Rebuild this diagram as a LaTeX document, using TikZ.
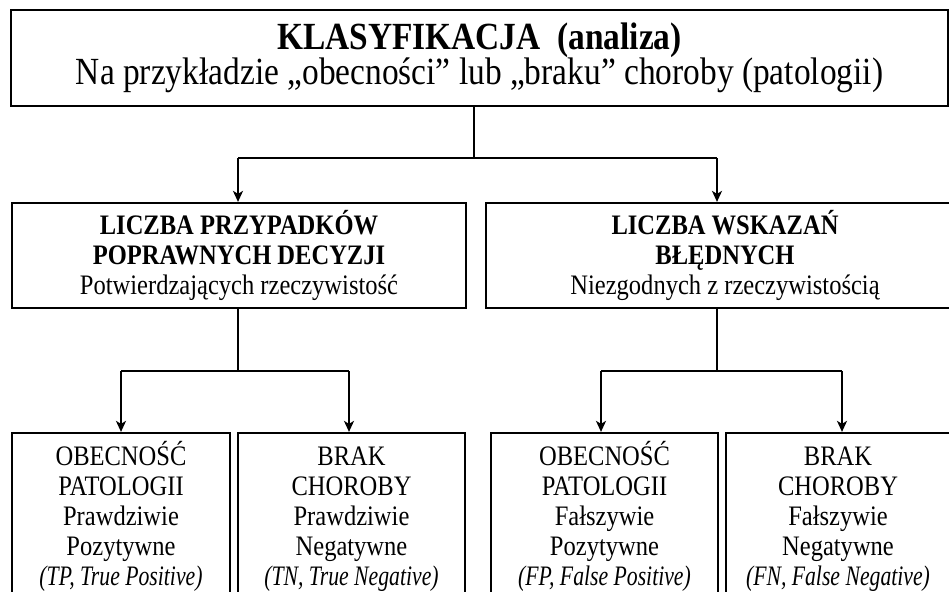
\documentclass[tikz,border=0pt]{standalone}
\usepackage{fontspec}
\setmainfont{Liberation Serif}[FakeStretch=0.87]
\newfontfamily\englfont{Liberation Serif}[FakeStretch=0.77]
\usetikzlibrary{arrows.meta}
\newcommand{\engl}[1]{{\englfont\itshape #1}}
\begin{document}
\begin{tikzpicture}[x=1pt,y=-1pt,
  box/.style={draw, line width=2.2pt, rectangle, inner sep=0pt, align=center},
  conn/.style={line width=2pt},
  arr/.style={conn, -{Stealth[length=11pt,width=10pt,inset=3pt]}},
  bigtxt/.style={font=\fontsize{38.4}{35.5}\selectfont},
  midtxt/.style={font=\fontsize{28.2}{30}\selectfont},
]
\useasboundingbox (0,0) rectangle (949,591);
\clip (0,0) rectangle (949,591);
\node[box, bigtxt, minimum width=937pt, minimum height=96pt] (top) at (479.5,58)
  {\textbf{KLASYFIKACJA\ \ (analiza)}\\Na przykładzie „obecności” lub „braku” choroby (patologii)};
\node[box, midtxt, minimum width=454pt, minimum height=105pt] (ml) at (239,255.5)
  {\textbf{LICZBA PRZYPADKÓW}\\\textbf{POPRAWNYCH DECYZJI}\\Potwierdzających rzeczywistość};
\node[box, midtxt, minimum width=478pt, minimum height=105pt] (mr) at (725,255.5)
  {\textbf{LICZBA WSKAZAŃ}\\\textbf{BŁĘDNYCH}\\Niezgodnych z rzeczywistością};
\node[box, midtxt, minimum width=218pt, minimum height=167pt] (b1) at (121,516.5)
  {OBECNOŚĆ\\PATOLOGII\\Prawdziwie\\Pozytywne\\\engl{(TP, True Positive)}};
\node[box, midtxt, minimum width=227pt, minimum height=167pt] (b2) at (351.5,516.5)
  {\vphantom{Ś}BRAK\\CHOROBY\\Prawdziwie\\Negatywne\\\engl{(TN, True Negative)}};
\node[box, midtxt, minimum width=227pt, minimum height=167pt] (b3) at (604.5,516.5)
  {OBECNOŚĆ\\PATOLOGII\\Fałszywie\\Pozytywne\\\engl{(FP, False Positive)}};
\node[box, midtxt, minimum width=224pt, minimum height=167pt] (b4) at (838,516.5)
  {\vphantom{Ś}BRAK\\CHOROBY\\Fałszywie\\Negatywne\\\engl{(FN, False Negative)}};
% top connectors
\coordinate (j0) at (474,158);
\coordinate (j0l) at (238,158);
\coordinate (j0r) at (717,158);
\draw[conn] (top.south -| j0) -- (j0);
\draw[conn] (j0l) -- (j0r);
\draw[arr] (j0l) -- (j0l |- ml.north);
\draw[arr] (j0r) -- (j0r |- mr.north);
% left lower connectors
\coordinate (j1) at (238,371);
\coordinate (j1l) at (121,371);
\coordinate (j1r) at (349,371);
\draw[conn] (ml.south -| j1) -- (j1);
\draw[conn] (j1l) -- (j1r);
\draw[arr] (j1l) -- (j1l |- b1.north);
\draw[arr] (j1r) -- (j1r |- b2.north);
% right lower connectors
\coordinate (j2) at (717,371);
\coordinate (j2l) at (601,371);
\coordinate (j2r) at (842,371);
\draw[conn] (mr.south -| j2) -- (j2);
\draw[conn] (j2l) -- (j2r);
\draw[arr] (j2l) -- (j2l |- b3.north);
\draw[arr] (j2r) -- (j2r |- b4.north);
\end{tikzpicture}
\end{document}
